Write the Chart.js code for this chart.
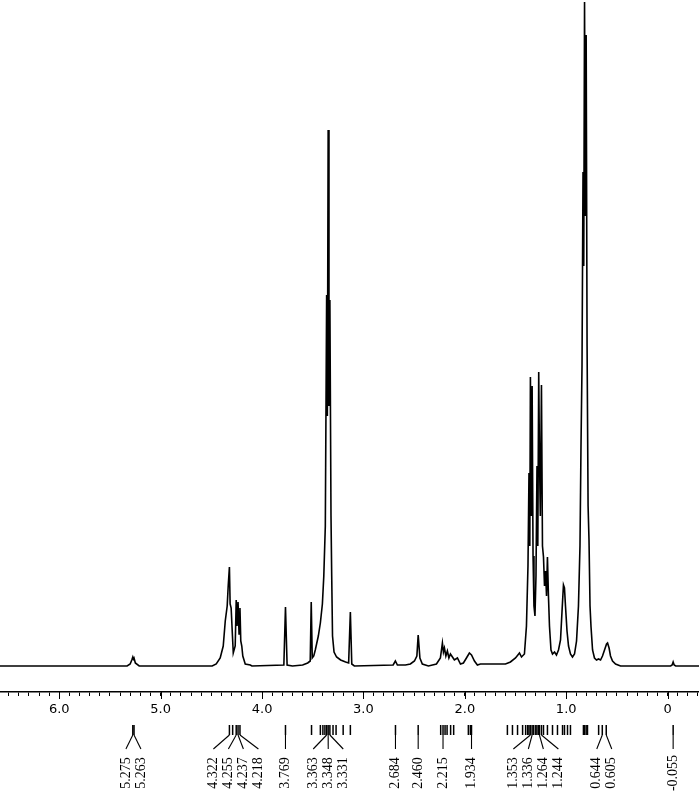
<!DOCTYPE html>
<html>
<head>
<meta charset="utf-8">
<title>1H NMR</title>
<script src="https://cdn.jsdelivr.net/npm/chart.js@4.4.0/dist/chart.umd.min.js"></script>
<style>
    html, body { margin: 0; padding: 0; background: #fff; }
    #spectrum { display: block; }
</style>
</head>
<body>
<canvas id="spectrum" width="699" height="799"></canvas>
<script>
// Спектр: химический сдвиг (ppm) и интенсивность (усл. ед.)
const ppm = [
    6.585, 5.331, 5.301, 5.285, 5.275, 5.269, 5.263, 5.250, 5.212,
    4.492, 4.452, 4.413, 4.383, 4.363, 4.344, 4.334, 4.322, 4.315, 4.305, 4.292, 4.284,
    4.265, 4.255, 4.247, 4.237, 4.227, 4.218, 4.210, 4.200, 4.190, 4.166, 4.116, 4.100,
    3.785, 3.769, 3.753, 3.700, 3.600, 3.550, 3.525, 3.515, 3.505, 3.490,
    3.475, 3.445, 3.425, 3.405, 3.391, 3.376, 3.363, 3.356, 3.348, 3.340, 3.331,
    3.320, 3.313, 3.305, 3.290, 3.265, 3.225, 3.176, 3.146, 3.129, 3.115, 3.090,
    2.707, 2.685, 2.665, 2.586, 2.537, 2.497, 2.473, 2.460, 2.443, 2.419, 2.359,
    2.280, 2.241, 2.221, 2.211, 2.201, 2.187, 2.172, 2.157, 2.142, 2.122, 2.103, 2.073,
    2.043, 2.014, 1.984, 1.955, 1.934, 1.905, 1.876, 1.846,
    1.599, 1.550, 1.500, 1.461, 1.441, 1.412, 1.392, 1.377, 1.367, 1.359, 1.353, 1.343,
    1.336, 1.327, 1.318, 1.308, 1.298, 1.288, 1.280, 1.271, 1.264, 1.255, 1.244, 1.234,
    1.224, 1.214, 1.204, 1.194, 1.185, 1.175, 1.165, 1.150, 1.135, 1.115, 1.096, 1.076,
    1.056, 1.041, 1.027, 1.017, 1.007, 0.992, 0.977, 0.958, 0.938, 0.918, 0.898, 0.879,
    0.864, 0.854, 0.844, 0.834, 0.827, 0.819, 0.811, 0.803, 0.794, 0.784, 0.775, 0.765,
    0.755, 0.740, 0.721, 0.701, 0.681, 0.661, 0.642, 0.622, 0.602, 0.592, 0.577, 0.563,
    0.543, 0.513, 0.464, -0.030, -0.045, -0.055, -0.065, -0.080, -0.310
];
const intensity = [
    0, 0, 2, 6, 9, 7, 8, 3, 0,
    0, 2, 8, 20, 45, 60, 80, 99, 62, 58, 30, 13,
    20, 66, 40, 64, 32, 58, 25, 20, 10, 2, 1, 0,
    1, 59, 1, 0, 1, 3, 5, 64, 8, 10,
    16, 30, 43, 62, 90, 140, 371, 250, 536, 260, 366,
    150, 90, 30, 14, 9, 6, 4, 3, 54, 2, 0,
    1, 5, 1, 1, 2, 5, 10, 31, 8, 2, 0,
    2, 8, 23, 14, 18, 10, 15, 8, 12, 9, 6, 8,
    2, 3, 8, 13, 11, 5, 1, 2,
    2, 4, 8, 13, 9, 12, 40, 100, 193, 120, 289, 150,
    280, 110, 60, 50, 90, 200, 120, 294, 213, 150, 281, 120,
    109, 80, 95, 70, 109, 70, 40, 16, 12, 14, 11, 16,
    26, 55, 81, 78, 60, 35, 20, 12, 9, 12, 25, 60,
    120, 220, 300, 494, 400, 664, 450, 631, 320, 160, 126, 60,
    39, 16, 8, 6, 7, 6, 10, 16, 22, 23, 18, 10,
    5, 2, 0, 0, 1, 4, 1, 0, 0
];

// Подписи оси X
const majorTicks = [6, 5, 4, 3, 2, 1, 0];
const tickLabels = ['6.0', '5.0', '4.0', '3.0', '2.0', '1.0', '0'];

// Отмеченные пики (штрихи под осью)
const pickedPeaks = [
    5.275, 5.263,
    4.322, 4.290, 4.255, 4.237, 4.218,
    3.769,
    3.512, 3.425, 3.400, 3.380, 3.363, 3.348, 3.331, 3.300, 3.270, 3.200, 3.129,
    2.684, 2.460,
    2.238, 2.215, 2.195, 2.175, 2.140, 2.110,
    1.965, 1.945, 1.934,
    1.580, 1.530, 1.480, 1.430, 1.400, 1.380, 1.367, 1.353, 1.336, 1.320, 1.300,
    1.288, 1.271, 1.264, 1.244, 1.224, 1.185, 1.135, 1.086, 1.036, 1.017, 0.987, 0.958,
    0.830, 0.819, 0.803, 0.790,
    0.680, 0.644, 0.605,
    -0.055
];

// Пики с подписями
const labelPeaks = [
    5.275, 5.263, 4.322, 4.255, 4.237, 4.218, 3.769, 3.363, 3.348, 3.331,
    2.684, 2.460, 2.215, 1.934, 1.353, 1.336, 1.264, 1.244, 0.644, 0.605, -0.055
];

const points = ppm.map((x, i) => ({ x: x, y: intensity[i] }));

// Разметка пиков под осью
const peakMarksPlugin = {
    id: 'peakMarks',
    afterDraw(chart) {
        const ctx = chart.ctx;
        const xs = chart.scales.x;
        const axisY = chart.chartArea.bottom;

        ctx.save();
        ctx.strokeStyle = '#000';
        ctx.fillStyle = '#000';

        // длинные штрихи на целых значениях
        ctx.lineWidth = 1;
        majorTicks.forEach(v => {
            const px = Math.round(xs.getPixelForValue(v)) + 0.5;
            ctx.beginPath();
            ctx.moveTo(px, axisY);
            ctx.lineTo(px, axisY + 7);
            ctx.stroke();
        });

        // штрихи отмеченных пиков
        ctx.lineWidth = 1.5;
        pickedPeaks.forEach(v => {
            const px = xs.getPixelForValue(v);
            ctx.beginPath();
            ctx.moveTo(px, axisY + 33);
            ctx.lineTo(px, axisY + 43);
            ctx.stroke();
        });

        // группы близких подписей
        const groups = [];
        labelPeaks.forEach(v => {
            const last = groups[groups.length - 1];
            if (last && last[last.length - 1] - v < 0.1) {
                last.push(v);
            } else {
                groups.push([v]);
            }
        });

        const step = 15;
        ctx.lineWidth = 1.1;
        ctx.font = '14px "Liberation Serif"';
        ctx.textAlign = 'center';
        ctx.textBaseline = 'middle';
        groups.forEach(g => {
            const pxs = g.map(v => xs.getPixelForValue(v));
            const center = pxs.reduce((a, b) => a + b, 0) / pxs.length;
            g.forEach((v, i) => {
                const lx = center + (i - (g.length - 1) / 2) * step;
                ctx.beginPath();
                ctx.moveTo(pxs[i], axisY + 43);
                ctx.lineTo(lx, axisY + 57);
                ctx.stroke();

                ctx.save();
                ctx.translate(lx, axisY + 81);
                ctx.rotate(-Math.PI / 2);
                ctx.fillText(v.toFixed(3), 0, 0);
                ctx.restore();
            });
        });

        ctx.restore();
    }
};

const ctx = document.getElementById('spectrum').getContext('2d');
new Chart(ctx, {
    type: 'line',
    data: {
        datasets: [{
            data: points,
            borderColor: '#000',
            borderWidth: 1.6,
            pointRadius: 0,
            tension: 0,
            fill: false
        }]
    },
    options: {
        responsive: false,
        animation: false,
        devicePixelRatio: 1,
        parsing: false,
        layout: { padding: 0 },
        plugins: {
            legend: { display: false },
            tooltip: { enabled: false }
        },
        scales: {
            x: {
                type: 'linear',
                reverse: true,
                min: -0.31,
                max: 6.585,
                afterBuildTicks(scale) {
                    const t = [];
                    for (let i = -3; i <= 65; i++) t.push({ value: i / 10 });
                    scale.ticks = t;
                },
                afterFit(scale) {
                    scale.height = 107;
                },
                grid: {
                    drawOnChartArea: false,
                    drawTicks: true,
                    tickLength: 4,
                    color: '#000',
                    lineWidth: 1
                },
                border: {
                    display: true,
                    color: '#000',
                    width: 1.5
                },
                ticks: {
                    autoSkip: false,
                    maxRotation: 0,
                    minRotation: 0,
                    padding: 6,
                    color: '#000',
                    font: { family: 'DejaVu Sans', size: 13 },
                    callback(value) {
                        const idx = majorTicks.findIndex(m => Math.abs(m - value) < 1e-6);
                        return idx >= 0 ? tickLabels[idx] : '';
                    }
                }
            },
            y: {
                display: false,
                min: -26,
                max: 666
            }
        }
    },
    plugins: [peakMarksPlugin]
});
</script>
</body>
</html>
